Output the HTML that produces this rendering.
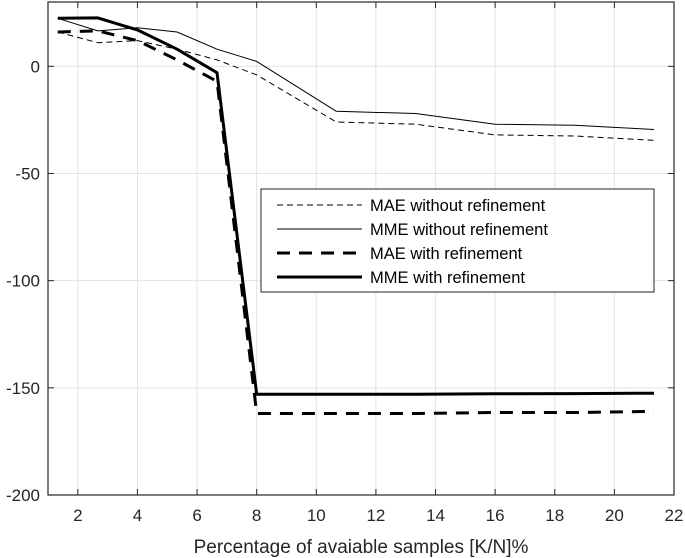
<!DOCTYPE html>
<html><head><meta charset="utf-8"><style>
body{margin:0;background:#fff;}
svg{display:block;font-family:"Liberation Sans",Arial,sans-serif;}
</style></head><body>
<svg id="chart" width="685" height="558" viewBox="0 0 685 558" xmlns="http://www.w3.org/2000/svg">
<g id="grid"></g>
<g id="series"></g>
<rect x="48" y="2" width="626" height="493" fill="none" stroke="#262626" stroke-width="1.2"/>
<g id="ticks"></g>
<text x="361" y="553" text-anchor="middle" font-size="19" fill="#262626">Percentage of avaiable samples [K/N]%</text>
<g>
<rect x="261" y="189" width="393" height="103" fill="#fff" stroke="#262626" stroke-width="1"/>
<g><line x1="277" y1="205" x2="362" y2="205" stroke="#000" stroke-width="1" stroke-dasharray="6,4"/><text x="370" y="211" font-size="16.5" fill="#000">MAE without refinement</text></g>
<g><line x1="277" y1="229" x2="362" y2="229" stroke="#000" stroke-width="1"/><text x="370" y="235" font-size="16.5" fill="#000">MME without refinement</text></g>
<g><line x1="277" y1="253" x2="362" y2="253" stroke="#000" stroke-width="3" stroke-dasharray="13,9"/><text x="370" y="259" font-size="16.5" fill="#000">MAE with refinement</text></g>
<g><line x1="277" y1="277" x2="362" y2="277" stroke="#000" stroke-width="3"/><text x="370" y="283" font-size="16.5" fill="#000">MME with refinement</text></g>
</g>
</svg>
<script>
const xValues=[1.33,2.67,4,5.33,6.67,8,10.67,13.33,16,18.67,21.33];
const maeWithout=[16,11,12,8,3,-4,-26,-27,-32,-32.5,-34.5];
const mmeWithout=[22.4,16.5,18,16,8,2.3,-21,-22,-27,-27.5,-29.5];
const maeWith=[16,16.5,12,3,-7,-162,-162,-162,-161.5,-161.5,-161];
const mmeWith=[22.4,22.6,17,8,-3,-153,-153,-153,-152.8,-152.7,-152.5];
const xTicks=[2,4,6,8,10,12,14,16,18,20,22];
const yTicks=[0,-50,-100,-150,-200];
const X0=1,X1=22,Y0=-200,Y1=30,L=48,R=674,T=2,B=495;
const sx=v=>L+(v-X0)/(X1-X0)*(R-L);
const sy=v=>B-(v-Y0)/(Y1-Y0)*(B-T);
const NS="http://www.w3.org/2000/svg";
const grid=document.getElementById('grid'),ticks=document.getElementById('ticks'),ser=document.getElementById('series');
function mk(tag,attrs,parent){const e=document.createElementNS(NS,tag);for(const k in attrs)e.setAttribute(k,attrs[k]);parent.appendChild(e);return e;}
xTicks.forEach(t=>{const x=sx(t);
 const g=mk('line',{x1:x,x2:x,y1:T,y2:B,stroke:'#e3e3e3','stroke-width':1},grid);
 
 
 const tk=mk('line',{x1:x,x2:x,y1:B,y2:B-6,stroke:'#262626','stroke-width':1},ticks);
 
 
 const tk2=mk('line',{x1:x,x2:x,y1:T,y2:T+6,stroke:'#262626','stroke-width':1},ticks);
 
 
 const lb=mk('text',{x:x,y:B+26,'text-anchor':'middle','font-size':17,fill:'#262626'},ticks);lb.textContent=t;
 
 
});
yTicks.forEach(t=>{const y=sy(t);
 const g=mk('line',{x1:L,x2:R,y1:y,y2:y,stroke:'#e3e3e3','stroke-width':1},grid);
 
 
 const tk=mk('line',{x1:L,x2:L+6,y1:y,y2:y,stroke:'#262626','stroke-width':1},ticks);
 
 
 const tk2=mk('line',{x1:R,x2:R-6,y1:y,y2:y,stroke:'#262626','stroke-width':1},ticks);
 
 
 const lb=mk('text',{x:L-8,y:y+6,'text-anchor':'end','font-size':17,fill:'#262626'},ticks);lb.textContent=t;
 
 
});
function line(vals,w,dash,name){
 const pts=vals.map((v,i)=>sx(xValues[i]).toFixed(1)+','+sy(v).toFixed(1)).join(' ');
 const p=mk('polyline',{points:pts,fill:'none',stroke:'#000','stroke-width':w,'stroke-linejoin':'round'},ser);
 if(dash)p.setAttribute('stroke-dasharray',dash);
 
 
}
line(maeWithout,1,'6,4','mae-without-refinement-line');
line(mmeWithout,1,null,'mme-without-refinement-line');
line(maeWith,3,'13,9','mae-with-refinement-line');
line(mmeWith,3,null,'mme-with-refinement-line');
</script>
</body></html>
